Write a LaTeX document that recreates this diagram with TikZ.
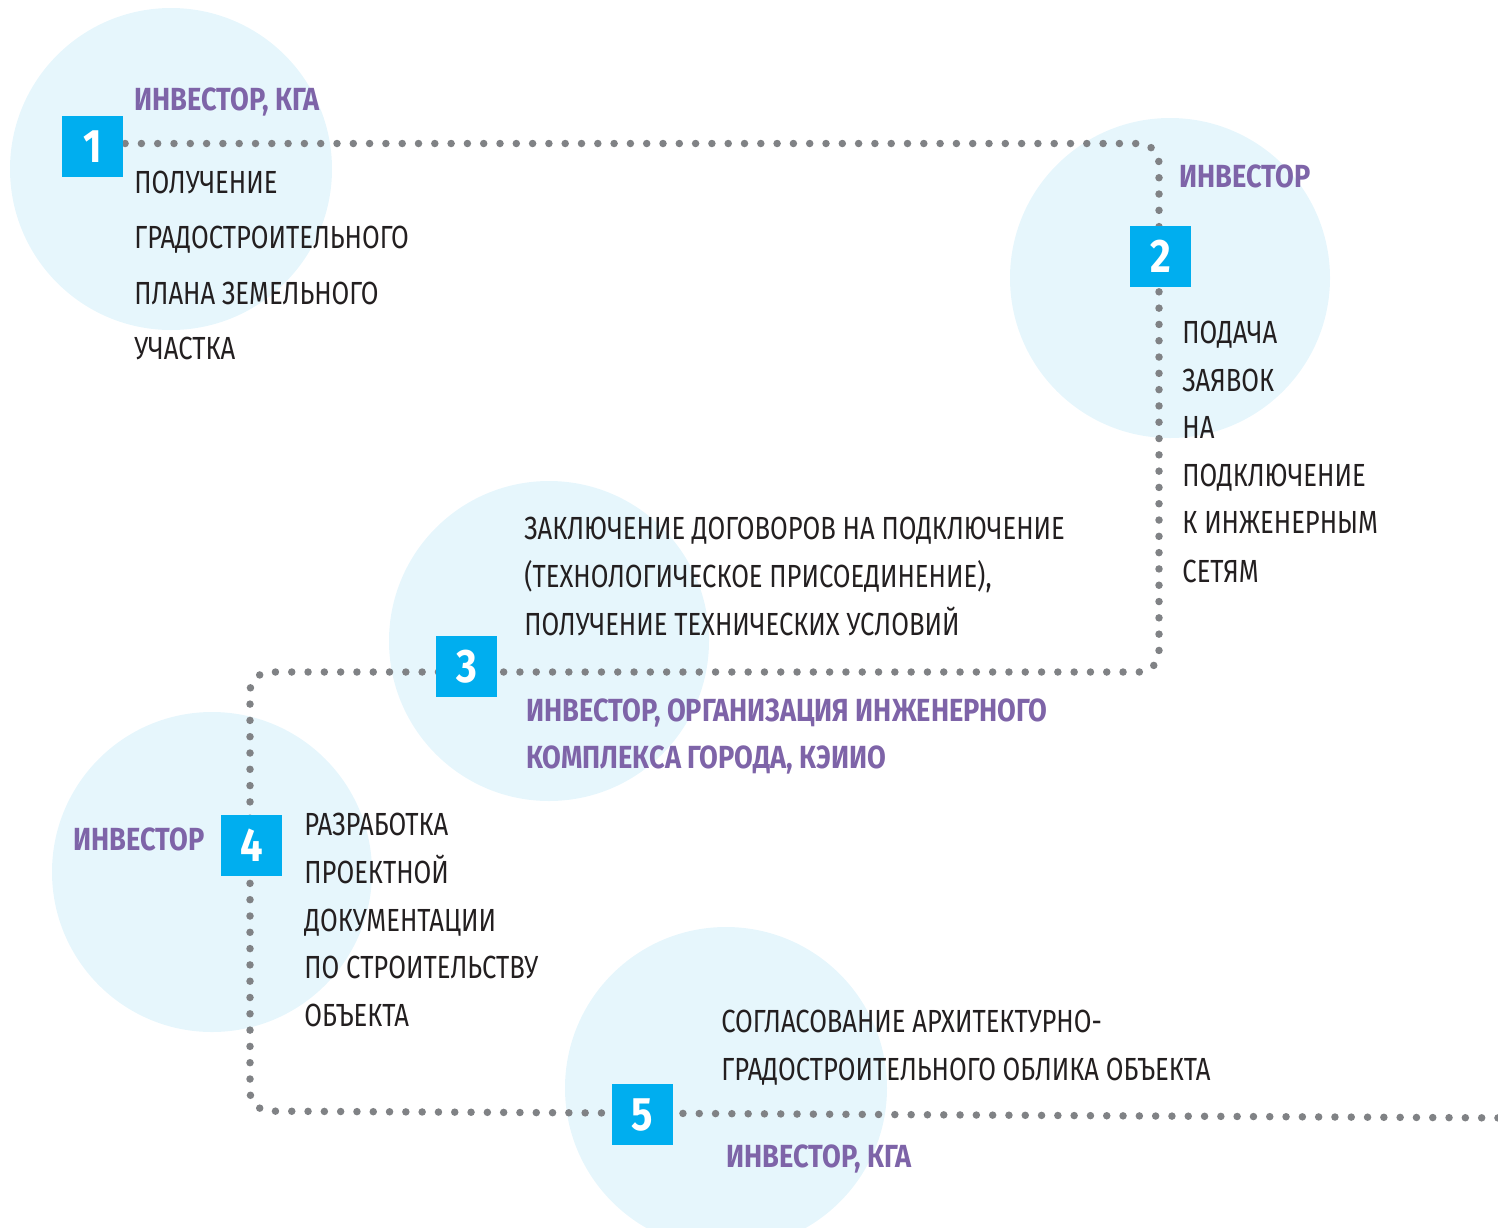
\documentclass[tikz,border=0pt]{standalone}
\usepackage{fontspec}
\newfontfamily\dinf[FakeStretch=0.8]{Fira Sans}
\newfontfamily\dinb[FakeStretch=0.85]{Fira Sans Bold}
\definecolor{circfill}{HTML}{E6F6FC}
\definecolor{boxblue}{HTML}{00AEEF}
\definecolor{dotgray}{HTML}{808285}
\definecolor{txtdark}{HTML}{231F20}
\definecolor{purp}{HTML}{7E64A8}
\pgfdeclarelayer{circlayer}
\pgfdeclarelayer{dotlayer}
\pgfsetlayers{circlayer,dotlayer,main}
\tikzset{
  circ/.style={circle, fill=circfill, inner sep=0pt, minimum size=#1},
  numbox/.style={fill=boxblue, text=white, inner sep=0pt, minimum size=30.5pt,
    font=\dinb\fontsize{23.5}{23.5}\selectfont},
  reg/.style={anchor=base west, inner sep=0pt, text=txtdark,
    font=\dinf\fontsize{16}{16}\selectfont},
  who/.style={anchor=base west, inner sep=0pt, text=purp,
    font=\dinb\fontsize{16}{16}\selectfont},
  dotline/.style={draw=dotgray, line width=3.75pt, line cap=round,
    dash pattern=on 0pt off 8.15pt, rounded corners=10pt}
}
\begin{document}
\begin{tikzpicture}[x=0.5pt,y=-0.5pt]
\useasboundingbox (0,0) rectangle (1498,1227);
\clip (0,0) rectangle (1498,1227);
% circles
\begin{pgfonlayer}{circlayer}
\node[circ=161pt] (ci1) at (171,169) {};
\node[circ=160pt] (ci2) at (1170,278) {};
\node[circ=160pt] (ci3) at (549,641) {};
\node[circ=160pt] (ci4) at (212,872) {};
\node[circ=161pt] (ci5) at (726,1088) {};
\end{pgfonlayer}
% path corners
\coordinate (k1) at (1159,143.5);
\coordinate (k2) at (1159,672);
\coordinate (k3) at (250,672);
\coordinate (k4) at (250,1111);
\coordinate (k5) at (1515,1118);
% number boxes
\node[numbox] (b1) at (92.5,146.5) {1};
\node[numbox] (b2) at (1160.5,256.5) {2};
\node[numbox] (b3) at (466.5,666.5) {3};
\node[numbox] (b4) at (251.5,845.5) {4};
\node[numbox] (b5) at (642.5,1114.5) {5};
% dotted route (behind boxes)
\begin{pgfonlayer}{dotlayer}
\path[dotline] (b1.center |- k1) -- (k1) -- (k2) -- (k3) -- (k4) -- (k5);
\end{pgfonlayer}
% group 1
\node[who] (w1) at (134,110) {ИНВЕСТОР, КГА};
\node[reg] (t1a) at (134,193) {ПОЛУЧЕНИЕ};
\node[reg] (t1b) at (134,248) {ГРАДОСТРОИТЕЛЬНОГО};
\node[reg] (t1c) at (134,304) {ПЛАНА ЗЕМЕЛЬНОГО};
\node[reg] (t1d) at (134,359) {УЧАСТКА};
% group 2
\node[who] (w2) at (1179,187) {ИНВЕСТОР};
\node[reg] (t2a) at (1182,343) {ПОДАЧА};
\node[reg] (t2b) at (1182,391) {ЗАЯВОК};
\node[reg] (t2c) at (1182,438) {НА};
\node[reg] (t2d) at (1182,486) {ПОДКЛЮЧЕНИЕ};
\node[reg] (t2e) at (1182,533) {К ИНЖЕНЕРНЫМ};
\node[reg] (t2f) at (1182,582) {СЕТЯМ};
% group 3
\node[reg] (t3a) at (524,539) {ЗАКЛЮЧЕНИЕ ДОГОВОРОВ НА ПОДКЛЮЧЕНИЕ};
\node[reg] (t3b) at (524,587) {(ТЕХНОЛОГИЧЕСКОЕ ПРИСОЕДИНЕНИЕ),};
\node[reg] (t3c) at (524,635) {ПОЛУЧЕНИЕ ТЕХНИЧЕСКИХ УСЛОВИЙ};
\node[who] (w3a) at (526,721) {ИНВЕСТОР, ОРГАНИЗАЦИЯ ИНЖЕНЕРНОГО};
\node[who] (w3b) at (526,768) {КОМПЛЕКСА ГОРОДА, КЭИИО};
% group 4
\node[who] (w4) at (73,850) {ИНВЕСТОР};
\node[reg] (t4a) at (304,835) {РАЗРАБОТКА};
\node[reg] (t4b) at (304,883) {ПРОЕКТНОЙ};
\node[reg] (t4c) at (304,931) {ДОКУМЕНТАЦИИ};
\node[reg] (t4d) at (304,978) {ПО СТРОИТЕЛЬСТВУ};
\node[reg] (t4e) at (304,1026) {ОБЪЕКТА};
% group 5
\node[reg] (t5a) at (721,1032) {СОГЛАСОВАНИЕ АРХИТЕКТУРНО-};
\node[reg] (t5b) at (721,1080) {ГРАДОСТРОИТЕЛЬНОГО ОБЛИКА ОБЪЕКТА};
\node[who] (w5) at (726,1167) {ИНВЕСТОР, КГА};
\end{tikzpicture}
\end{document}
